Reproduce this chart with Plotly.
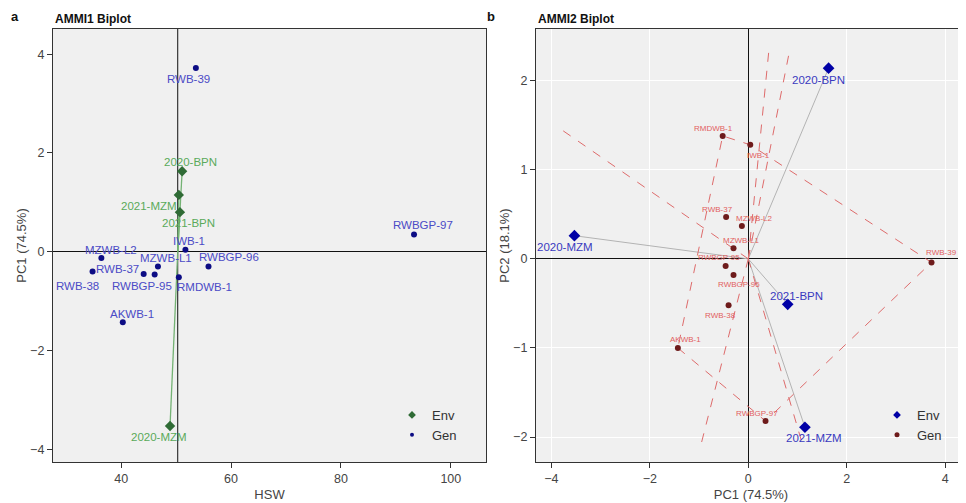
import numpy as np
import plotly.graph_objects as go

# ---------------- data ----------------
genotypes = ["RWB-39", "RWBGP-97", "IWB-1", "MZWB-L2", "RWB-38", "RWB-37",
             "RWBGP-95", "MZWB-L1", "RWBGP-96", "RMDWB-1", "AKWB-1"]
gen_hsw = [53.6, 93.3, 51.7, 36.4, 34.8, 44.1, 46.1, 46.7, 55.9, 50.5, 40.3]
gen_pc1 = [3.72, 0.35, 0.04, -0.13, -0.40, -0.45, -0.46, -0.30, -0.30, -0.52, -1.43]
gen_pc2 = [-0.04, -1.82, 1.28, 0.37, -0.52, 0.47, -0.08, 0.12, -0.18, 1.38, -1.00]

environments = ["2020-BPN", "2020-MZM", "2021-BPN", "2021-MZM"]
env_hsw = [51.1, 48.9, 50.7, 50.5]
env_pc1 = [1.63, -3.53, 0.80, 1.15]
env_pc2 = [2.14, 0.26, -0.51, -1.89]

x_ticks_left = [40, 60, 80, 100]
y_ticks_left = [-4, -2, 0, 2, 4]
x_ticks_right = [-4, -2, 0, 2, 4]
y_ticks_right = [-2, -1, 0, 1, 2]

# label offsets in pixels (dx right, dy up) – styling only
left_gen_off = [(-7, -11), (9, 9), (4, 9), (10, 8), (-15, -15), (-26, 5),
                (-13, -12), (8, 8), (20, 9), (26, -10), (9, 8)]
left_env_off = [(8, 9), (-11, -11), (9, -11), (-30, -11)]
right_gen_off = [(10, 10), (-9, 8), (8, -11), (13, 7), (-8, -10), (-9, 7),
                 (-7, 8), (8, 8), (5, -10), (-9, 7), (8, 8)]
right_env_off = [(-10, -12), (-9, -11), (9, 8), (9, -11)]

FONT = "Arial, Liberation Sans, sans-serif"
GREEN_M = "#2f6b35"
GREEN_L = "#74b274"
GREEN_T = "#5aaa5a"
NAVY = "#0c0c84"
BLUE_T = "#4b4bc6"
ENV_B = "#0000a6"
ENV_T = "#3a3abf"
RED_M = "#6e1b1b"
RED_T = "#e2605f"
RED_L = "#de6b6b"

# the page body has an 8px margin, so the figure is laid out 8px up/left
OFF = 8
W, H = 966 - OFF, 503 - OFF
ML, MR, MT, MB = 53 - OFF, 0, 29 - OFF, 503 - 462
PW = W - ML - MR
PH = H - MT - MB

def px(xr):  # paper x from reference pixel
    return (xr - OFF - ML) / PW
def py(yr):
    return (H - MB - (yr - OFF)) / PH

fig = go.Figure()

# ---------------- left panel: AMMI1 ----------------
mean_hsw = float(np.mean(env_hsw))
for i, e in enumerate(environments):
    fig.add_trace(go.Scatter(x=[mean_hsw, env_hsw[i]], y=[0, env_pc1[i]], mode="lines",
                             line=dict(color=GREEN_L, width=1.3), showlegend=False,
                             hoverinfo="skip", xaxis="x", yaxis="y"))
fig.add_trace(go.Scatter(x=env_hsw, y=env_pc1, mode="markers", text=environments,
                         marker=dict(symbol="diamond", size=8, color=GREEN_M),
                         showlegend=False, xaxis="x", yaxis="y"))
fig.add_trace(go.Scatter(x=gen_hsw, y=gen_pc1, mode="markers", text=genotypes,
                         marker=dict(symbol="circle", size=6, color=NAVY),
                         showlegend=False, xaxis="x", yaxis="y"))
fig.add_trace(go.Scatter(x=[None], y=[None], mode="markers", name="Env",
                         marker=dict(symbol="diamond", size=6, color=GREEN_M),
                         legend="legend", xaxis="x", yaxis="y"))
fig.add_trace(go.Scatter(x=[None], y=[None], mode="markers", name="Gen",
                         marker=dict(symbol="circle", size=4, color=NAVY),
                         legend="legend", xaxis="x", yaxis="y"))

# ---------------- right panel: AMMI2 ----------------
def convex_hull(points):
    p = sorted(points)
    def cross(o, a, b):
        return (a[0] - o[0]) * (b[1] - o[1]) - (a[1] - o[1]) * (b[0] - o[0])
    lower, upper = [], []
    for q in p:
        while len(lower) >= 2 and cross(lower[-2], lower[-1], q) <= 0:
            lower.pop()
        lower.append(q)
    for q in reversed(p):
        while len(upper) >= 2 and cross(upper[-2], upper[-1], q) <= 0:
            upper.pop()
        upper.append(q)
    return lower[:-1] + upper[:-1]

hull = convex_hull(list(zip(gen_pc1, gen_pc2)))
hx = [h[0] for h in hull] + [hull[0][0]]
hy = [h[1] for h in hull] + [hull[0][1]]

all_x = gen_pc1 + env_pc1
all_y = gen_pc2 + env_pc2
bx0, bx1 = 1.1 * min(all_x), 1.1 * max(all_x)
by0, by1 = 1.1 * min(all_y), 1.1 * max(all_y)

for i, e in enumerate(environments):
    fig.add_trace(go.Scatter(x=[0, env_pc1[i]], y=[0, env_pc2[i]], mode="lines",
                             line=dict(color="#b3b3b3", width=1), showlegend=False,
                             hoverinfo="skip", xaxis="x2", yaxis="y2"))

fig.add_trace(go.Scatter(x=hx, y=hy, mode="lines",
                         line=dict(color=RED_L, width=1, dash="dash"),
                         showlegend=False, hoverinfo="skip", xaxis="x2", yaxis="y2"))
for k in range(len(hull)):
    a = np.array(hull[k]); b = np.array(hull[(k + 1) % len(hull)])
    d = b - a
    n = np.array([d[1], -d[0]])
    if np.dot(n, a) < 0:
        n = -n
    ts = []
    if n[0] > 0: ts.append(bx1 / n[0])
    if n[0] < 0: ts.append(bx0 / n[0])
    if n[1] > 0: ts.append(by1 / n[1])
    if n[1] < 0: ts.append(by0 / n[1])
    t = min(ts)
    fig.add_trace(go.Scatter(x=[0, t * n[0]], y=[0, t * n[1]], mode="lines",
                             line=dict(color=RED_L, width=1, dash="dash"),
                             showlegend=False, hoverinfo="skip", xaxis="x2", yaxis="y2"))

fig.add_trace(go.Scatter(x=env_pc1, y=env_pc2, mode="markers", text=environments,
                         marker=dict(symbol="diamond", size=9, color=ENV_B),
                         showlegend=False, xaxis="x2", yaxis="y2"))
fig.add_trace(go.Scatter(x=gen_pc1, y=gen_pc2, mode="markers", text=genotypes,
                         marker=dict(symbol="circle", size=6, color=RED_M),
                         showlegend=False, xaxis="x2", yaxis="y2"))
fig.add_trace(go.Scatter(x=[None], y=[None], mode="markers", name="Env",
                         marker=dict(symbol="diamond", size=6, color=ENV_B),
                         legend="legend2", xaxis="x2", yaxis="y2"))
fig.add_trace(go.Scatter(x=[None], y=[None], mode="markers", name="Gen",
                         marker=dict(symbol="circle", size=5, color=RED_M),
                         legend="legend2", xaxis="x2", yaxis="y2"))

# ---------------- labels ----------------
ann = []
def add_labels(xs, ys, names, offs, xref, yref, color, size):
    for xv, yv, nm, (dx, dy) in zip(xs, ys, names, offs):
        ann.append(dict(x=xv, y=yv, xref=xref, yref=yref, text=nm, showarrow=False,
                        xshift=dx, yshift=dy, font=dict(family=FONT, size=size, color=color)))

add_labels(gen_hsw, gen_pc1, genotypes, left_gen_off, "x", "y", BLUE_T, 11.5)
add_labels(env_hsw, env_pc1, environments, left_env_off, "x", "y", GREEN_T, 11.5)
add_labels(gen_pc1, gen_pc2, genotypes, right_gen_off, "x2", "y2", RED_T, 8)
add_labels(env_pc1, env_pc2, environments, right_env_off, "x2", "y2", ENV_T, 11.5)

ann += [
    dict(x=px(10), y=py(8), xref="paper", yref="paper", text="<b>a</b>",
         showarrow=False, xanchor="left", yanchor="top", borderpad=0,
         font=dict(family=FONT, size=13, color="#111")),
    dict(x=px(53), y=py(19), xref="paper", yref="paper", text="<b>AMMI1 Biplot</b>",
         showarrow=False, xanchor="left", yanchor="middle",
         font=dict(family=FONT, size=12, color="#111")),
    dict(x=px(486), y=py(8), xref="paper", yref="paper", text="<b>b</b>",
         showarrow=False, xanchor="left", yanchor="top", borderpad=0,
         font=dict(family=FONT, size=13, color="#111")),
    dict(x=px(536), y=py(19), xref="paper", yref="paper", text="<b>AMMI2 Biplot</b>",
         showarrow=False, xanchor="left", yanchor="middle",
         font=dict(family=FONT, size=12, color="#111")),
]

shapes = [
    dict(type="line", xref="x", yref="y domain", x0=mean_hsw, x1=mean_hsw, y0=0, y1=1,
         line=dict(color="#111", width=1), layer="below"),
]

axis_common = dict(showline=True, mirror=True, linecolor="#333", linewidth=1.3,
                   ticks="outside", ticklen=5, tickcolor="#333", tickwidth=1,
                   gridcolor="#ffffff", gridwidth=1, automargin=False,
                   tickfont=dict(family=FONT, size=12.5, color="#444"))
title_font = dict(family=FONT, size=13, color="#444")

fig.update_layout(
    width=W, height=H,
    margin=dict(l=ML, r=MR, t=MT, b=MB, autoexpand=False),
    paper_bgcolor="white", plot_bgcolor="#f0f0f0",
    font=dict(family=FONT),
    xaxis=dict(domain=[0, px(486)], range=[27.6, 106.4], tickvals=x_ticks_left,
               zeroline=False, anchor="y", showgrid=False,
               title=dict(text="HSW", standoff=4, font=title_font), **axis_common),
    yaxis=dict(domain=[0, 1], range=[-4.26, 4.51], tickvals=y_ticks_left, anchor="x",
               zeroline=True, zerolinecolor="#111", zerolinewidth=1, showgrid=False,
               title=dict(text="PC1 (74.5%)", standoff=0, font=title_font), **axis_common),
    xaxis2=dict(domain=[px(536), 1.0], range=[-4.31, 4.42], tickvals=x_ticks_right,
                anchor="y2", zeroline=True, zerolinecolor="#111", zerolinewidth=1, showgrid=True,
                title=dict(text="PC1 (74.5%)", standoff=4, font=title_font), **axis_common),
    yaxis2=dict(domain=[0, 1], range=[-2.28, 2.58], tickvals=y_ticks_right, anchor="x2",
                zeroline=True, zerolinecolor="#111", zerolinewidth=1, showgrid=True,
                title=dict(text="PC2 (18.1%)", standoff=0, font=title_font), **axis_common),
    legend=dict(x=px(392), y=py(400), xanchor="left", yanchor="top",
                bgcolor="rgba(0,0,0,0)", font=dict(family=FONT, size=13, color="#333"),
                itemwidth=30, tracegroupgap=0),
    legend2=dict(x=px(877), y=py(400), xanchor="left", yanchor="top",
                 bgcolor="rgba(0,0,0,0)", font=dict(family=FONT, size=13, color="#333"),
                 itemwidth=30, tracegroupgap=0),
    annotations=ann,
    shapes=shapes,
)

fig.write_html("out.html")
